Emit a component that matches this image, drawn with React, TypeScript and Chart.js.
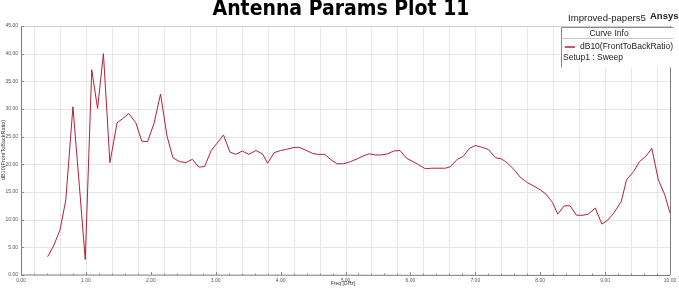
import React, { useEffect, useRef } from "react";
import { Chart, registerables } from "chart.js";

Chart.register(...registerables);

const freqGHz: number[] = [
  0.41, 0.5, 0.6, 0.69, 0.8, 0.9, 0.99, 1.09, 1.18, 1.27, 1.37, 1.48, 1.56, 1.66, 1.77, 1.86, 1.95, 2.05, 2.15, 2.25,
  2.34, 2.44, 2.54, 2.64, 2.74, 2.83, 2.93, 3.02, 3.12, 3.22, 3.31, 3.41, 3.51, 3.62, 3.72, 3.8, 3.9, 4.0, 4.09, 4.19,
  4.28, 4.38, 4.49, 4.57, 4.68, 4.78, 4.87, 4.97, 5.08, 5.18, 5.27, 5.36, 5.46, 5.56, 5.65, 5.74, 5.84, 5.94, 6.04, 6.13,
  6.23, 6.33, 6.44, 6.54, 6.62, 6.72, 6.81, 6.91, 7.0, 7.1, 7.2, 7.31, 7.4, 7.5, 7.6, 7.69, 7.8, 7.9, 8.0, 8.09,
  8.19, 8.27, 8.37, 8.46, 8.56, 8.66, 8.74, 8.85, 8.95, 9.04, 9.14, 9.25, 9.33, 9.44, 9.53, 9.63, 9.72, 9.82, 9.92, 10.0,
];

const frontToBackDb: number[] = [
  3.3, 5.2, 8.1, 13.5, 30.4, 16.0, 2.8, 37.1, 30.1, 40.0, 20.3, 27.5, 28.2, 29.2, 27.5, 24.2, 24.1, 27.4, 32.7, 25.1,
  21.2, 20.5, 20.3, 20.9, 19.5, 19.6, 22.5, 23.8, 25.3, 22.2, 21.8, 22.4, 21.8, 22.5, 21.9, 20.2, 22.1, 22.5, 22.7, 23.0,
  23.1, 22.6, 22.0, 21.8, 21.8, 20.8, 20.1, 20.1, 20.5, 21.0, 21.5, 21.9, 21.7, 21.7, 21.9, 22.4, 22.5, 21.1, 20.5, 19.9,
  19.2, 19.3, 19.3, 19.3, 19.6, 20.9, 21.4, 22.9, 23.4, 23.1, 22.7, 21.2, 21.0, 20.2, 19.0, 17.7, 16.7, 16.1, 15.4, 14.6,
  13.1, 11.0, 12.5, 12.5, 10.8, 10.8, 11.0, 12.1, 9.2, 9.9, 11.3, 13.3, 17.2, 18.7, 20.5, 21.5, 22.9, 17.2, 14.5, 11.2,
];

const xTickValues: number[] = [0, 1, 2, 3, 4, 5, 6, 7, 8, 9, 10];
const yTickValues: number[] = [0, 5, 10, 15, 20, 25, 30, 35, 40, 45];

const titleText = "Antenna Params Plot 11";
const projectText = "Improved-papers5";
const brandText = "Ansys";
const legendHeader = "Curve Info";
const seriesName = "dB10(FrontToBackRatio)";
const setupText = "Setup1 : Sweep";
const yAxisTitle = "dB10(FrontToBackRatio)";
const xAxisTitle = "Freq [GHz]";

const LINE_COLOR = "rgb(178,34,52)";

const overlay = {
  id: "overlay",
  beforeDraw(chart: any) {
    const ctx = chart.ctx;
    ctx.save();
    ctx.fillStyle = "#ffffff";
    ctx.fillRect(0, 0, chart.width, chart.height);
    ctx.restore();
  },
  beforeDatasetsDraw(chart: any) {
    const ctx = chart.ctx;
    const { left, right, top, bottom } = chart.chartArea;
    const xs = chart.scales.x;
    const ys = chart.scales.y;
    ctx.save();
    ctx.lineWidth = 1;
    ctx.strokeStyle = "#e6e6e6";
    for (let k = 0; k < 25; k++) {
      const v = 0.2 + 0.4 * k;
      const px = Math.round(xs.getPixelForValue(v)) + 0.5;
      ctx.beginPath();
      ctx.moveTo(px, top);
      ctx.lineTo(px, bottom);
      ctx.stroke();
    }
    for (let v = 5; v < 45; v += 5) {
      const py = Math.round(ys.getPixelForValue(v)) + 0.5;
      ctx.beginPath();
      ctx.moveTo(left, py);
      ctx.lineTo(right, py);
      ctx.stroke();
    }
    ctx.restore();
  },
  afterDraw(chart: any) {
    const ctx = chart.ctx;
    const { left, right, top, bottom } = chart.chartArea;
    const xs = chart.scales.x;
    const ys = chart.scales.y;
    ctx.save();
    // frame
    ctx.lineWidth = 1;
    ctx.strokeStyle = "#cfcfcf";
    ctx.beginPath();
    ctx.moveTo(left, Math.round(top) + 0.5);
    ctx.lineTo(right, Math.round(top) + 0.5);
    ctx.stroke();
    ctx.strokeStyle = "#7a7a7a";
    ctx.beginPath();
    ctx.moveTo(Math.round(left) + 0.5, top);
    ctx.lineTo(Math.round(left) + 0.5, bottom);
    ctx.lineTo(right, Math.round(bottom) + 0.5);
    ctx.stroke();
    ctx.beginPath();
    ctx.moveTo(Math.round(right) + 0.5, top);
    ctx.lineTo(Math.round(right) + 0.5, bottom);
    ctx.stroke();
    // tick marks
    ctx.strokeStyle = "#8a8a8a";
    for (let k = 0; k <= 50; k++) {
      const v = k * 0.2;
      const px = Math.round(xs.getPixelForValue(v)) + 0.5;
      const len = k % 5 === 0 ? 3 : 1.5;
      ctx.beginPath();
      ctx.moveTo(px, bottom);
      ctx.lineTo(px, bottom - len);
      ctx.stroke();
    }
    for (const v of yTickValues) {
      const py = Math.round(ys.getPixelForValue(v)) + 0.5;
      ctx.beginPath();
      ctx.moveTo(left, py);
      ctx.lineTo(left + 3, py);
      ctx.stroke();
    }
    // tick labels
    ctx.fillStyle = "#555";
    ctx.font = "5px 'Liberation Sans', sans-serif";
    ctx.textBaseline = "middle";
    ctx.textAlign = "right";
    for (const v of yTickValues) {
      ctx.fillText(v.toFixed(2), left - 3, ys.getPixelForValue(v));
    }
    ctx.textAlign = "center";
    for (const v of xTickValues) {
      ctx.fillText(v.toFixed(2), xs.getPixelForValue(v), bottom + 6);
    }
    // title
    ctx.fillStyle = "#000000";
    ctx.textAlign = "center";
    ctx.textBaseline = "middle";
    ctx.font = "bold 21px 'Liberation Sans Narrow', 'DejaVu Sans Condensed', sans-serif";
    ctx.fillText(titleText, 341, 10);
    // project/brand
    ctx.textAlign = "left";
    ctx.font = "9.6px 'Liberation Sans', sans-serif";
    ctx.fillStyle = "#222";
    ctx.fillText(projectText, 568, 18);
    ctx.font = "bold 9.5px 'Liberation Sans', sans-serif";
    ctx.fillText(brandText, 650, 16);
    // legend box
    const bx = 561.5;
    const by = 27.5;
    const bw = 112;
    const bh = 40;
    ctx.fillStyle = "#ffffff";
    ctx.fillRect(bx, by, bw, bh);
    ctx.strokeStyle = "#8a8a8a";
    ctx.beginPath();
    ctx.moveTo(bx, by + bh);
    ctx.lineTo(bx, by);
    ctx.lineTo(bx + bw, by);
    ctx.stroke();
    ctx.strokeStyle = "#c8c8c8";
    ctx.beginPath();
    ctx.moveTo(bx, by + 11);
    ctx.lineTo(bx + bw, by + 11);
    ctx.stroke();
    ctx.fillStyle = "#222";
    ctx.textAlign = "center";
    ctx.font = "8.5px 'Liberation Sans', sans-serif";
    ctx.fillText(legendHeader, 609, by + 6);
    ctx.strokeStyle = LINE_COLOR;
    ctx.lineWidth = 1.5;
    ctx.beginPath();
    ctx.moveTo(565, 47);
    ctx.lineTo(575, 47);
    ctx.stroke();
    ctx.textAlign = "left";
    ctx.fillText(seriesName, 580, 47);
    ctx.fillText(setupText, 563, 58);
    // axis titles
    ctx.fillStyle = "#333";
    ctx.font = "5px 'Liberation Sans', sans-serif";
    ctx.textAlign = "center";
    ctx.fillText(xAxisTitle, 343, 284);
    ctx.save();
    ctx.translate(3.5, 150);
    ctx.rotate(-Math.PI / 2);
    ctx.font = "5.5px 'Liberation Sans', sans-serif";
    ctx.fillText(yAxisTitle, 0, 0);
    ctx.restore();
    ctx.restore();
  },
};

export default function App() {
  const ref = useRef<HTMLCanvasElement | null>(null);
  useEffect(() => {
    if (!ref.current) return;
    const points = freqGHz.map((f, i) => ({ x: f, y: frontToBackDb[i] }));
    const chart = new Chart(ref.current, {
      type: "line",
      data: {
        datasets: [
          {
            label: seriesName,
            data: points,
            borderColor: LINE_COLOR,
            borderWidth: 1,
            pointRadius: 0,
            tension: 0,
            fill: false,
          },
        ],
      },
      options: {
        animation: false,
        responsive: false,
        maintainAspectRatio: false,
        layout: { padding: { left: 0, right: 9, top: 26, bottom: 0 } },
        plugins: { legend: { display: false }, tooltip: { enabled: false }, title: { display: false } },
        scales: {
          x: {
            type: "linear",
            min: 0,
            max: 10,
            grid: { display: false },
            border: { display: false },
            ticks: { display: false, stepSize: 1 },
            afterFit: (s: any) => {
              s.height = 13;
            },
          },
          y: {
            type: "linear",
            min: 0,
            max: 45,
            grid: { display: false },
            border: { display: false },
            ticks: { display: false, stepSize: 5 },
            afterFit: (s: any) => {
              s.width = 21;
            },
          },
        },
      },
      plugins: [overlay],
    });
    return () => chart.destroy();
  }, []);
  return (
    <div style={{ position: "fixed", left: 0, top: 0, width: 679, height: 288, background: "#fff" }}>
      <canvas ref={ref} width={679} height={288} style={{ width: 679, height: 288, display: "block" }} />
    </div>
  );
}
